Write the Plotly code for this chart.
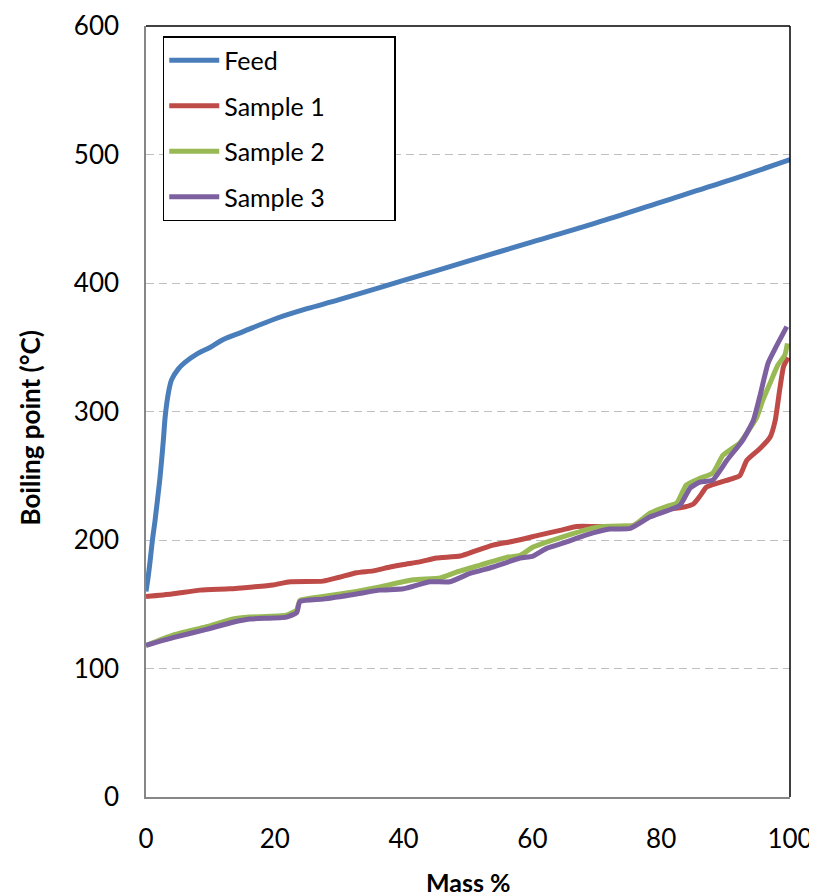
import plotly.graph_objects as go

feed_x = [0, 0.3, 0.6, 1.0, 1.4, 1.8, 2.2, 2.7, 3.0, 3.5, 4.0, 5.0, 6.0, 8.0, 10, 12, 15, 20, 25, 30, 40, 50, 60, 70, 80, 90, 100]
feed_y = [160, 170, 182, 200, 215, 232, 250, 278, 297, 315, 325, 333, 338, 345, 350, 356, 362, 372, 380, 387, 402, 417, 432, 447, 463, 479, 496]

s1_x = [0, 4, 8.4, 13, 16.6, 19.7, 22.4, 27.5, 30, 32.7, 35.3, 37.9, 40, 42.5, 45.1, 48.8, 51.4, 53.9, 57, 61.2, 64.3, 66.9, 70, 75.6, 78.3, 80.8, 82.9, 85, 86, 87, 88.6, 91.2, 92.2, 93.3, 95.3, 96.9, 97.7, 98.4, 99, 99.7]
s1_y = [156, 158, 161, 162, 163.5, 165, 167.5, 168, 171, 174.5, 176, 179, 181, 183, 186, 187.5, 192, 196, 199, 204, 207.5, 210.5, 210.5, 211, 219, 224, 225, 228, 234, 241, 244, 248, 250, 262, 271, 280, 293, 317, 335, 342]

s2_x = [0, 4.2, 9.4, 13.5, 16.1, 21.8, 23.4, 23.9, 27.5, 32.7, 36.3, 41.5, 45.7, 48.2, 51.9, 56, 58.1, 60.1, 63.2, 66.3, 70, 74.6, 75.6, 78.3, 80.8, 82.4, 83.9, 86, 88, 89.6, 92.2, 93.8, 94.8, 95.8, 96.9, 98.1, 99.2, 99.6]
s2_y = [118, 126, 132.5, 138.5, 140, 141.5, 145.5, 153, 156, 160, 163.5, 169, 170.5, 175, 180.5, 186.5, 188, 194.5, 200, 205, 210, 211, 211, 221, 226, 228.6, 242.8, 248, 252, 266, 275.5, 287, 295, 309, 322, 336, 344, 353]

s3_x = [0, 4.2, 9.4, 13.5, 16.1, 21.8, 23.4, 23.9, 27.5, 32.7, 36.3, 40, 44.1, 47.2, 50.3, 53.9, 58.1, 60.1, 62.2, 65.3, 68.4, 72, 75.2, 78.3, 82.9, 84.5, 86, 88, 90.2, 92.7, 94.3, 95.3, 96.6, 97.7, 99.5]
s3_y = [118, 124, 130.5, 136, 138.5, 140, 143.5, 152, 154, 158, 161, 162, 167.5, 167.5, 174, 179, 186, 187.5, 193.5, 198.5, 204, 208.5, 209, 218, 227, 240.5, 245, 246.6, 262, 278, 293, 311.5, 337.7, 349, 366]

names = ["Feed", "Sample 1", "Sample 2", "Sample 3"]
colors = ["#4A7EBB", "#BE4B48", "#98B954", "#7D60A0"]
xs = [feed_x, s1_x, s2_x, s3_x]
ys = [feed_y, s1_y, s2_y, s3_y]

x_ticks = [0, 20, 40, 60, 80, 100]
y_ticks = [0, 100, 200, 300, 400, 500, 600]

pad = "\u00a0" * 10

fig = go.Figure()
for i, (n, c, x, y) in enumerate(zip(names, colors, xs, ys)):
    fig.add_trace(go.Scatter(
        x=x, y=y, name=n + pad, mode="lines",
        line=dict(color=c, width=5, shape="spline", smoothing=0.5 if i else 1.0),
        legendgroup=n,
    ))

font_family = "Lato, Carlito, Calibri, sans-serif"
fs = 26

# page body has an 8px default margin, so the figure is sized to fit the window
fig.update_layout(
    width=809, height=888,
    margin=dict(l=138, r=27, t=18, b=99, autoexpand=False),
    paper_bgcolor="white", plot_bgcolor="white",
    font=dict(family=font_family, size=fs, color="black"),
    showlegend=True,
    legend=dict(
        x=0.026, y=0.987, xanchor="left", yanchor="top",
        bordercolor="black", borderwidth=1.5, bgcolor="white",
        font=dict(size=25), tracegroupgap=10,
        itemwidth=50,
    ),
    xaxis=dict(
        range=[0, 100], tickvals=x_ticks, ticks="",
        showline=True, linecolor="#868686", linewidth=1.5,
        showgrid=False, zeroline=False, ticklabelstandoff=18,
        tickfont=dict(size=fs),
    ),
    yaxis=dict(
        range=[0, 600], tickvals=y_ticks, ticks="",
        showline=True, linecolor="#868686", linewidth=1.5,
        showgrid=True, gridcolor="#BFBFBF", griddash="8px,5px", gridwidth=1.3,
        zeroline=False, ticklabelstandoff=20,
        tickfont=dict(size=fs),
    ),
    annotations=[
        dict(text="<b>Mass %</b>", xref="paper", yref="paper", x=0.5, y=-0.110,
             xanchor="center", yanchor="middle", showarrow=False, font=dict(size=25)),
        dict(text="<b>Boiling point (°C)</b>", xref="paper", yref="paper", x=-0.180, y=0.478,
             xanchor="center", yanchor="middle", showarrow=False, textangle=-90,
             font=dict(size=26)),
    ],
    shapes=[
        dict(type="line", xref="paper", yref="paper", x0=0, x1=1, y0=1, y1=1,
             line=dict(color="black", width=1.5)),
        dict(type="line", xref="paper", yref="paper", x0=1, x1=1, y0=0, y1=1,
             line=dict(color="black", width=1.5)),
    ],
)

fig.write_html("out.html")
